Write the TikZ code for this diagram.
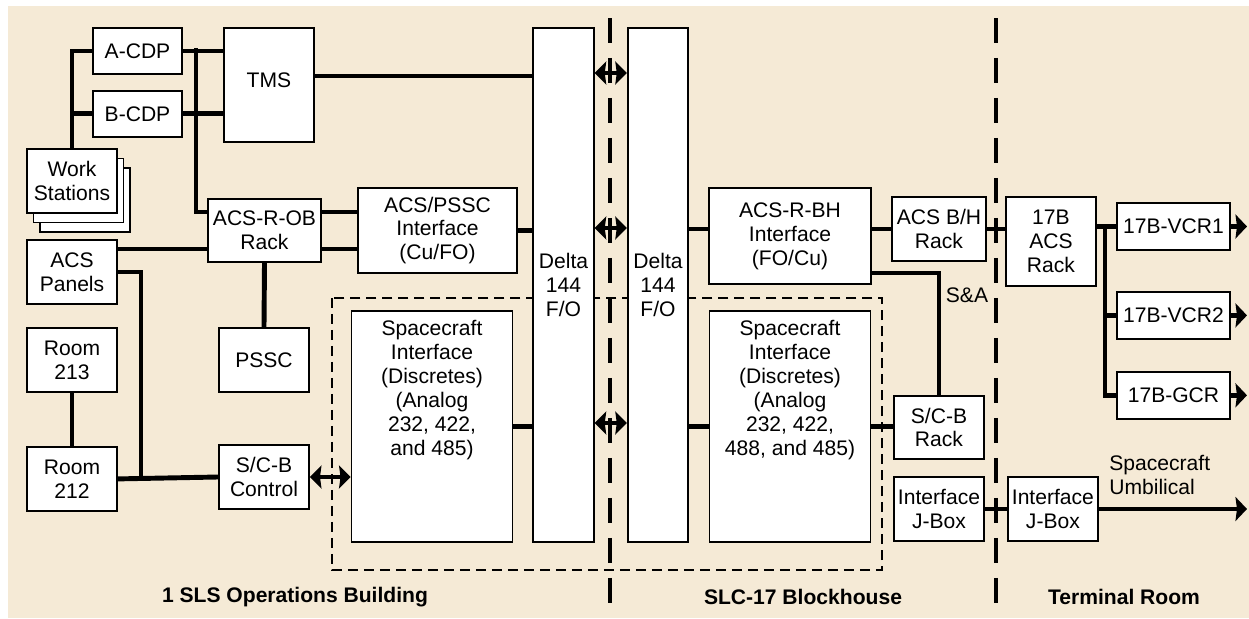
\documentclass[tikz,border=0pt]{standalone}
\usepackage{fontspec}
\setmainfont{Liberation Sans}
\usepackage{tikz}
\usetikzlibrary{positioning,arrows.meta,calc}
\definecolor{sand}{RGB}{245,234,214}

\begin{document}
\begin{tikzpicture}[
        x=0.02cm, y=-0.02cm,
        box/.style={draw, fill=white, line width=1.1pt, align=center, inner sep=0pt, font=\fontsize{12}{13.6}\selectfont},
        sbox/.style={box, minimum width=1.8cm, minimum height=1.28cm},
        cdp/.style={box, minimum width=1.78cm, minimum height=0.92cm},
        vcr/.style={box, minimum width=2.26cm, minimum height=0.94cm},
        sibox/.style={box, minimum width=3.22cm, minimum height=4.62cm},
        delta/.style={box, minimum width=1.21cm, minimum height=10.28cm},
        txt/.style={inner sep=0pt, align=center, font=\fontsize{12}{13.6}\selectfont},
        area/.style={inner sep=0pt, font=\fontsize{12}{13.6}\selectfont\bfseries},
        lnk/.style={line width=2.8pt},
        arr/.style={lnk, -{Stealth[length=2.3mm,width=4.8mm,inset=0.3mm]}},
        darr/.style={lnk, {Stealth[length=2.3mm,width=4.6mm,inset=0.3mm]}-{Stealth[length=2.3mm,width=4.6mm,inset=0.3mm]}},
        wall/.style={line width=1.8pt, dash pattern=on 0.5cm off 0.3cm},
        zone/.style={line width=0.7pt, dash pattern=on 0.2cm off 0.12cm}
      ]

      \useasboundingbox (0,0) rectangle (1249,619);
      \fill[sand] (8,6) rectangle (1249,618);
      \draw[zone] (332,298) rectangle (882,570);

      % Operations building
      \node[cdp] (acdp) at (137.5,51) {A-CDP};
      \node[cdp,below=0.3cm of acdp] (bcdp) {B-CDP};
      \node[box, minimum width=1.8cm, minimum height=2.28cm, text depth=5.6pt] (tms) at (269,85) {TMS};
      \node[sbox] (ws3) at (85,200) {};
      \node[sbox] (ws2) at (78.5,190.5) {};
      \node[sbox] (ws) at (72,181) {Work\\Stations};
      \node[sbox] (acsp) at (72,272) {ACS\\Panels};
      \node[box, minimum width=2.26cm, minimum height=1.26cm] (acsrob) at (264.5,230.5) {ACS-R-OB\\Rack};
      \node[box, minimum width=3.18cm, minimum height=1.7cm] (acspssc) at (437.5,230.5) {ACS/PSSC\\Interface\\(Cu/FO)};
      \node[sbox] (pssc) at (264,360) {PSSC};
      \node[sbox] (room213) at (72,360) {Room\\213};
      \node[sbox,below=1.06cm of room213] (room212) {Room\\212};
      \node[sbox] (scbc) at (264,477) {S/C-B\\Control};
      \node[sibox] (si1) at (432,426.5) {};
      \node[txt,below=0.2cm of si1.north] (si1t) {Spacecraft\\Interface\\(Discretes)\\(Analog\\232, 422,\\and 485)};
      \node[delta] (delta1) at (563.5,285) {Delta\\144\\F/O};

      % Blockhouse
      \node[delta] (delta2) at (658,285) {Delta\\144\\F/O};
      \node[box, minimum width=3.24cm, minimum height=1.92cm] (acsrbh) at (790,236) {ACS-R-BH\\Interface\\(FO/Cu)};
      \node[sibox] (si2) at (790,426.5) {};
      \node[txt,below=0.2cm of si2.north] (si2t) {Spacecraft\\Interface\\(Discretes)\\(Analog\\232, 422,\\488, and 485)};
      \node[box, minimum width=1.88cm, minimum height=1.28cm] (acsbh) at (939,229) {ACS B/H\\Rack};
      \node[box, minimum width=1.8cm, minimum height=1.26cm] (scbr) at (939,427.5) {S/C-B\\Rack};
      \node[sbox] (jbox1) at (939,509) {Interface\\J-Box};
      \node[txt] (sa) at (967,295) {S\&A};

      % Terminal room
      \node[sbox,right=0.44cm of jbox1] (jbox2) {Interface\\J-Box};
      \node[box, minimum width=1.8cm, minimum height=1.78cm] (r17b) at (1051,241.5) {17B\\ACS\\Rack};
      \node[vcr] (vcr1) at (1173.5,226.5) {17B-VCR1};
      \node[vcr,below=0.8cm of vcr1] (vcr2) {17B-VCR2};
      \node[vcr,below=0.62cm of vcr2] (gcr) {17B-GCR};
      \node[txt, align=left, anchor=west] (umb) at (1109,475) {Spacecraft\\Umbilical};

      % Section labels
      \node[area] (lopb) at (295,597) {1 SLS Operations Building};
      \node[area] (lblk) at (803,597) {SLC-17 Blockhouse};
      \node[area] (lterm) at (1124,597) {Terminal Room};

      \coordinate (busr) at (196,48);
      \coordinate (junc) at (141,477);
      \coordinate (busv) at (1105,224);
      \coordinate (tipx) at (1247,0);

      % Links
      \draw[lnk] (acdp.west) -| (ws.north);
      \draw[lnk] (bcdp.west) -- (bcdp.west -| ws.north);
      \draw[lnk] (acdp.east) -- (tms.west |- acdp.east);
      \draw[lnk] (bcdp.east) -- (tms.west |- bcdp.east);
      \draw[lnk] (busr) |- (acsrob.west |- 0,212);
      \draw[lnk] (acsrob.east |- 0,212) -- (acspssc.west |- 0,212);
      \draw[lnk] (acsrob.east |- 0,249) -- (acspssc.west |- 0,249);
      \draw[lnk] (acsp.east |- 0,249) -- (acsrob.west |- 0,249);
      \draw[lnk] (acsp.east) -| (junc);
      \draw[lnk] (room212.east) -- (scbc.west);
      \draw[lnk] (room213.south) -- (room212.north);
      \draw[lnk] (acsrob.south) -- (pssc.north);
      \draw[darr] (scbc.east) -- (scbc.east -| si1.west);
      \draw[lnk] (tms.east |- 0,76) -- (delta1.west |- 0,76);
      \draw[lnk] (acspssc.east) -- (acspssc.east -| delta1.west);
      \draw[lnk] (si1.east) -- (si1.east -| delta1.west);
      \foreach \yy in {73,228,423}
        \draw[darr] (delta1.east |- 0,\yy) -- (delta2.west |- 0,\yy);
      \draw[lnk] (delta2.east |- acsbh.west) -- (acsrbh.west |- acsbh.west);
      \draw[lnk] (delta2.east |- si2.west) -- (si2.west);
      \draw[lnk] (acsrbh.east |- acsbh.west) -- (acsbh.west);
      \draw[lnk] (acsrbh.east |- 0,273) -| (scbr.north);
      \draw[lnk] (si2.east) -- (si2.east -| scbr.west);
      \draw[lnk] (acsbh.east) -- (acsbh.east -| r17b.west);
      \draw[lnk] (jbox1.east) -- (jbox2.west);
      \draw[arr] (jbox2.east) -- (jbox2.east -| tipx);
      \draw[lnk] (r17b.east |- vcr1.west) -- (vcr1.west);
      \draw[lnk] (busv) |- (gcr.west);
      \draw[lnk] (busv |- vcr2.west) -- (vcr2.west);
      \foreach \n in {vcr1,vcr2,gcr}
        \draw[arr] (\n.east) -- (\n.east -| tipx);

      % Dividers
      \draw[wall] (610,18) -- (610,603);
      \draw[wall] (996,18) -- (996,603);

\end{tikzpicture}
\end{document}
